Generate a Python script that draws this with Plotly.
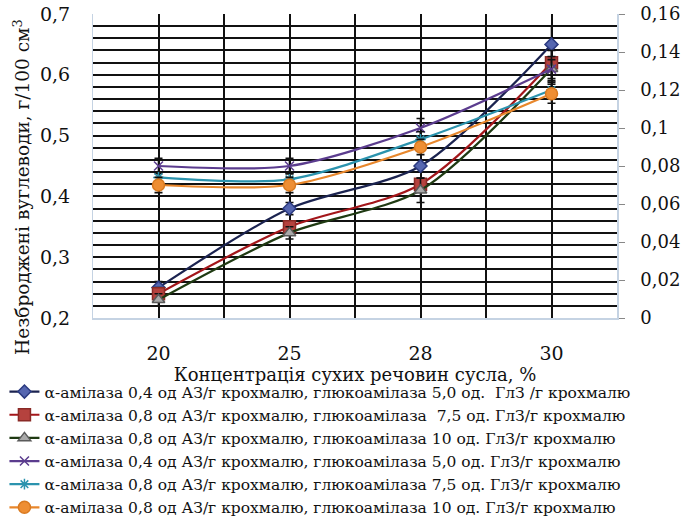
import plotly.graph_objects as go

# Dry-matter concentration of the wort, %
categories = ["20", "25", "28", "30"]

# Unfermented carbohydrates, g/100 cm3 (left axis)
amyl04_gl50 = [0.25, 0.38, 0.45, 0.65]
amyl08_gl75 = [0.24, 0.35, 0.42, 0.62]
amyl08_gl10 = [0.23, 0.34, 0.41, 0.61]
err_04_50 = [0.01, 0.01, 0.01, 0.03]
err_08_75 = [0.01, 0.01, 0.01, 0.02]
err_08_10 = [0.01, 0.01, 0.02, 0.02]

# Second group (right axis)
amyl04_gl50_b = [0.080, 0.080, 0.100, 0.131]
amyl08_gl75_b = [0.074, 0.073, 0.094, 0.120]
amyl08_gl10_b = [0.070, 0.070, 0.090, 0.118]
err_04_50_b = [0.004, 0.004, 0.005, 0.005]
err_08_75_b = [0.003, 0.003, 0.004, 0.004]
err_08_10_b = [0.004, 0.004, 0.004, 0.005]

labels = [
    "α-амілаза 0,4 од АЗ/г крохмалю, глюкоамілаза 5,0 од.  ГлЗ /г крохмалю",
    "α-амілаза 0,8 од АЗ/г крохмалю, глюкоамілаза  7,5 од. ГлЗ/г крохмалю",
    "α-амілаза 0,8 од АЗ/г крохмалю, глюкоамілаза 10 од. ГлЗ/г крохмалю",
    "α-амілаза 0,4 од АЗ/г крохмалю, глюкоамілаза 5,0 од. ГлЗ/г крохмалю",
    "α-амілаза 0,8 од АЗ/г крохмалю, глюкоамілаза 7,5 од. ГлЗ/г крохмалю",
    "α-амілаза 0,8 од АЗ/г крохмалю, глюкоамілаза 10 од. ГлЗ/г крохмалю",
]

y_title = "Незброджені вуглеводи, г/100 см<sup>3</sup>"
x_title = "Концентрація сухих речовин сусла, %"

# each category sits in the middle of its slot
xpos = [i + 0.5 for i in range(len(categories))]

FONT = "DejaVu Serif"

series = [
    # values, errors, axis, line colour, marker symbol, marker fill, marker outline, size
    (amyl04_gl50, err_04_50, "y", "#1B2350", "diamond", "#5566B0", "#2B3A80", 10),
    (amyl08_gl75, err_08_75, "y", "#A3161A", "square", "#B5423E", "#8A2A26", 12),
    (amyl08_gl10, err_08_10, "y", "#1F3A12", "triangle-up", "#A9A9A9", "#5A5A5A", 11),
    (amyl04_gl50_b, err_04_50_b, "y2", "#5B3C8E", "x-thin", "#5B3C8E", "#5B3C8E", 9),
    (amyl08_gl75_b, err_08_75_b, "y2", "#2B93AE", "asterisk", "#2B93AE", "#2B93AE", 9),
    (amyl08_gl10_b, err_08_10_b, "y2", "#E8872C", "circle", "#EE8E33", "#D97A20", 12),
]

fig = go.Figure()
for (vals, errs, axis, lc, sym, mfill, mline, msize), name in zip(series, labels):
    fig.add_trace(go.Scatter(
        x=xpos, y=vals, yaxis=axis, name=name,
        mode="lines+markers",
        line=dict(color=lc, width=2.2, shape="spline", smoothing=0.8),
        marker=dict(symbol=sym, size=msize, color=mfill,
                    line=dict(color=mline, width=1.5)),
        error_y=dict(type="data", array=errs, visible=True,
                     color="#111111", thickness=1.6, width=4),
    ))

# rotated left-axis caption, placed a little below the plot's mid-height
fig.add_annotation(
    text=y_title, textangle=-90,
    xref="paper", yref="paper", x=-0.137, y=0.432,
    xanchor="center", yanchor="middle", showarrow=False,
    font=dict(family=FONT, size=18.5, color="#111111"),
)

fig.update_layout(
    width=681, height=518,
    margin=dict(l=93, r=64, t=14, b=200, autoexpand=False),
    paper_bgcolor="white", plot_bgcolor="white",
    separators=", ",
    font=dict(family=FONT, size=18, color="#111111"),
    showlegend=True,
    legend=dict(
        x=-0.169, xanchor="left", y=-0.1875, yanchor="top",
        font=dict(family=FONT, size=15.5, color="#111111"),
        tracegroupgap=0, itemwidth=30, bgcolor="rgba(0,0,0,0)",
    ),
    xaxis=dict(
        range=[0, 4],
        tickvals=xpos, ticktext=categories,
        showgrid=True, gridcolor="#111111", gridwidth=1.5,
        minor=dict(dtick=0.5, tick0=0, showgrid=True,
                   gridcolor="#111111", gridwidth=1.5),
        showline=True, linecolor="#C5D3E3", linewidth=1.5,
        ticks="outside", ticklen=17, tickcolor="rgba(0,0,0,0)",
        zeroline=False,
        tickfont=dict(family=FONT, size=19),
        title=dict(text=x_title, font=dict(family=FONT, size=18), standoff=0),
    ),
    yaxis=dict(
        range=[0.2, 0.7], dtick=0.1, tick0=0.2,
        showgrid=True, gridcolor="#111111", gridwidth=1.5,
        minor=dict(dtick=0.02, tick0=0.2, showgrid=True,
                   gridcolor="#111111", gridwidth=1.5),
        showline=True, linecolor="#C5D3E3", linewidth=1,
        ticks="outside", ticklen=18, tickcolor="rgba(0,0,0,0)",
        zeroline=False,
        tickfont=dict(family=FONT, size=19),
    ),
    yaxis2=dict(
        overlaying="y", side="right",
        range=[0, 0.16], dtick=0.02, tick0=0,
        showgrid=False, zeroline=False,
        showline=True, linecolor="#C5D3E3", linewidth=1.5,
        ticks="outside", ticklen=6, tickcolor="#888888",
        ticklabelstandoff=12,
        tickfont=dict(family=FONT, size=18),
    ),
)

fig.write_html("out.html")
